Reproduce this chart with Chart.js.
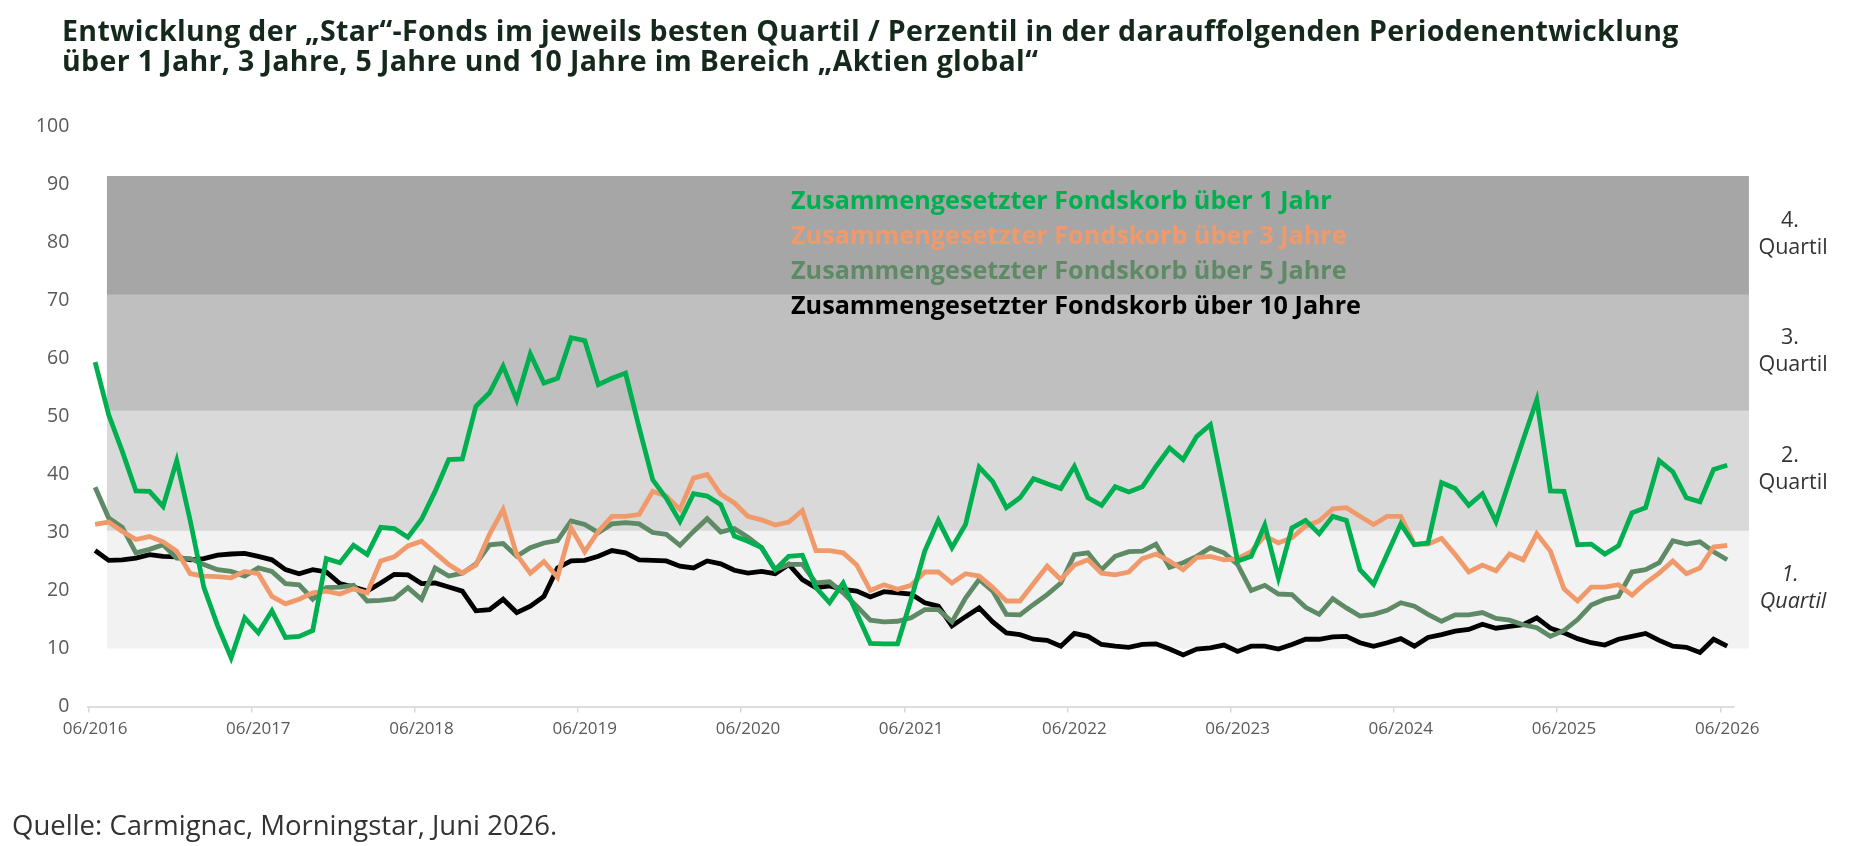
<!DOCTYPE html>
<html><head><meta charset="utf-8">
<script src="https://cdn.jsdelivr.net/npm/chart.js@4.4.1/dist/chart.umd.min.js"></script>
<style>
html,body{margin:0;padding:0;background:#fff;width:1854px;height:846px;overflow:hidden;font-family:'Open Sans',sans-serif;}
#title{position:absolute;left:62px;top:15px;font-size:28.5px;letter-spacing:0.35px;font-weight:700;line-height:30px;color:#14291b;white-space:nowrap;z-index:2;}
#source{position:absolute;left:12px;top:808px;font-size:27.5px;line-height:33px;color:#333;white-space:nowrap;z-index:2;}
canvas{position:absolute;left:0;top:0;}
</style></head><body>
<div id="title">Entwicklung der „Star“-Fonds im jeweils besten Quartil / Perzentil in der darauffolgenden Periodenentwicklung<br>über 1 Jahr, 3 Jahre, 5 Jahre und 10 Jahre im Bereich „Aktien global“</div>
<canvas id="c" width="1854" height="846"></canvas>
<div id="source">Quelle: Carmignac, Morningstar, Juni 2026.</div>
<script>
// ---- data ----
const startYear = 2016, startMonth = 6, monthCount = 121;
const months = [];
for (let i = 0; i < monthCount; i++) {
  const m = (startMonth - 1 + i) % 12 + 1, yr = startYear + Math.floor((startMonth - 1 + i) / 12);
  months.push((m < 10 ? '0' : '') + m + '/' + yr);
}
const tickLabels = ['06/2016','06/2017','06/2018','06/2019','06/2020','06/2021','06/2022','06/2023','06/2024','06/2025','06/2026'];
const seriesNames = ['Zusammengesetzter Fondskorb über 1 Jahr','Zusammengesetzter Fondskorb über 3 Jahre','Zusammengesetzter Fondskorb über 5 Jahre','Zusammengesetzter Fondskorb über 10 Jahre'];

const fonds1J = [59.4,50.3,44,37.2,37.1,34.5,42.4,32,20.5,14,8.4,15.3,12.7,16.5,11.9,12.1,13.1,25.5,24.8,27.8,26.2,30.9,30.7,29.2,32.3,
37.1,42.6,42.7,51.8,54.1,58.7,52.9,60.8,55.8,56.6,63.6,63.1,55.5,56.6,57.5,48.1,39.1,35.9,31.9,36.7,36.3,34.8,29.4,28.5,
27.4,23.6,25.9,26.1,20.5,17.9,21.3,16.1,10.9,10.8,10.8,18.5,26.8,32.1,27.4,31.4,41.3,38.8,34.3,36.0,39.3,38.4,37.6,41.4,
36.0,34.7,37.9,37.0,37.9,41.4,44.6,42.6,46.6,48.6,37,25.1,25.9,31.3,22.2,30.8,32.1,29.8,32.8,32.1,23.6,21.1,26.3,31.5,
27.9,28.2,38.6,37.6,34.7,36.7,31.9,39,46,52.9,37.2,37.1,27.9,28.0,26.3,27.7,33.4,34.3,42.4,40.5,36.0,35.3,40.9,41.6];

const fonds3J = [31.4,31.8,30.2,28.8,29.3,28.4,26.8,22.9,22.5,22.4,22.2,23.3,22.9,19.0,17.7,18.5,19.6,19.9,19.4,20.3,19.6,25.1,25.8,27.7,28.5,
26.5,24.5,23.0,24.4,29.7,34.0,26.2,23.0,25.0,22.3,30.8,26.7,30.2,32.8,32.8,33.1,37.1,36.3,34.0,39.4,40.0,36.6,35.1,32.8,
32.2,31.3,31.8,33.8,26.9,26.9,26.5,24.4,20.0,21.0,20.2,20.9,23.2,23.2,21.3,22.9,22.5,20.5,18.2,18.2,21.2,24.2,21.9,24.4,
25.3,23.0,22.7,23.2,25.5,26.3,25.1,23.6,25.7,25.9,25.3,25.5,26.7,29.4,28.2,29.1,31.1,32.0,34.1,34.3,32.8,31.4,32.8,32.8,
28.0,28.0,29.0,26.2,23.2,24.4,23.4,26.3,25.3,29.8,26.8,20.3,18.2,20.6,20.6,21.0,19.2,21.3,23.0,25.1,22.9,23.9,27.5,27.8];

const fonds5J = [37.8,32.5,30.9,26.5,27.1,27.9,25.6,25.5,24.5,23.6,23.3,22.5,23.9,23.3,21.2,21.0,18.5,20.5,20.6,20.9,18.2,18.3,18.6,20.5,18.5,
23.9,22.5,23.0,24.6,27.9,28.1,25.9,27.4,28.2,28.6,32.0,31.4,30.0,31.5,31.7,31.5,30.0,29.7,27.8,30.2,32.4,30.1,30.7,29.2,
27.4,23.6,24.5,24.5,21.3,21.5,19.6,17.3,14.9,14.6,14.7,15.3,16.7,16.7,14.6,18.7,21.9,19.9,15.9,15.8,17.6,19.3,21.3,26.2,
26.5,23.6,25.9,26.7,26.8,28.0,24.0,24.8,25.9,27.4,26.5,24.5,20.0,20.9,19.4,19.3,17.1,15.9,18.6,17.0,15.6,15.9,16.6,17.9,
17.3,15.9,14.7,15.8,15.8,16.2,15.2,14.9,14.1,13.6,12.1,13.1,15.0,17.5,18.5,19.0,23.2,23.6,24.8,28.6,28.0,28.4,26.7,25.3];

const fonds10J = [26.9,25.2,25.3,25.6,26.2,25.9,25.8,25.3,25.5,26.1,26.3,26.4,25.9,25.3,23.6,22.9,23.6,23.2,21.2,20.6,19.9,21.3,22.8,22.7,21.2,
21.3,20.6,19.9,16.5,16.7,18.5,16.2,17.3,19.0,23.9,25.1,25.2,25.9,26.9,26.5,25.3,25.2,25.1,24.2,23.9,25.1,24.6,23.5,23.0,
23.3,22.9,24.5,21.9,20.5,20.8,20.2,19.9,18.9,19.8,19.6,19.4,17.9,17.3,13.9,15.5,17.0,14.6,12.7,12.4,11.6,11.4,10.4,12.6,
12.1,10.7,10.4,10.2,10.7,10.8,9.9,8.9,9.9,10.1,10.6,9.5,10.4,10.4,9.9,10.7,11.6,11.6,12.0,12.1,11.0,10.4,11.0,11.7,
10.4,11.9,12.4,13.0,13.3,14.2,13.5,13.8,14.1,15.3,13.5,12.7,11.7,11.0,10.6,11.6,12.1,12.6,11.4,10.4,10.2,9.3,11.6,10.4];

// quartile bands (percentile ranges)
const bandLower = [10, 30.3, 51, 71];
const bandUpper = [30.3, 51, 71, 91.5];
const bandNumbers = ['1.', '2.', '3.', '4.'];
const bandWord = 'Quartil';
const yTicks = [0,10,20,30,40,50,60,70,80,90,100];

// ---- styles ----
const lineColors = ['#00b050', '#f09a6c', '#5f8a66', '#000000'];
const bandColors = ['#f2f2f2', '#d9d9d9', '#bfbfbf', '#a6a6a6'];

const decor = {
  id: 'decor',
  beforeDatasetsDraw(chart) {
    const {ctx, scales: {x, y}} = chart;
    const left = x.getPixelForValue(0.87), right = x.getPixelForValue(121.6);
    ctx.save();
    for (let k = 0; k < bandLower.length; k++) {
      const t = y.getPixelForValue(bandUpper[k]), b = y.getPixelForValue(bandLower[k]);
      ctx.fillStyle = bandColors[k];
      ctx.fillRect(left, t, right - left, b - t);
    }
    ctx.restore();
  },
  afterDatasetsDraw(chart) {
    const {ctx, scales: {y}} = chart;
    ctx.save();
    ctx.textBaseline = 'middle';
    ctx.textAlign = 'left';
    ctx.font = "bold 25.2px 'Open Sans'";
    chart.data.datasets.forEach((ds, i) => {
      ctx.fillStyle = ds.borderColor;
      ctx.fillText(ds.label, 791, 202 + 35 * i);
    });
    ctx.textAlign = 'center';
    ctx.fillStyle = '#333333';
    for (let k = 0; k < bandLower.length; k++) {
      const cy = (y.getPixelForValue(bandUpper[k]) + y.getPixelForValue(bandLower[k])) / 2;
      ctx.font = (k === 0 ? 'italic ' : '') + "21.5px 'Open Sans'";
      ctx.fillText(bandNumbers[k], 1790, cy - 15);
      ctx.fillText(bandWord, 1793, cy + 12);
    }
    ctx.restore();
  }
};

const datasets = [fonds1J, fonds3J, fonds5J, fonds10J].map((d, i) => ({
  label: seriesNames[i],
  data: d,
  borderColor: lineColors[i],
  backgroundColor: lineColors[i],
  borderWidth: 4.8,
  pointRadius: 0,
  tension: 0,
  fill: false
}));

new Chart(document.getElementById('c'), {
  type: 'line',
  data: { labels: months, datasets },
  plugins: [decor],
  options: {
    responsive: false,
    animation: false,
    devicePixelRatio: 1,
    layout: { padding: { top: 126.7, bottom: 99.5, right: 120, left: 0 } },
    plugins: { legend: { display: false }, tooltip: { enabled: false }, title: { display: false } },
    scales: {
      x: {
        type: 'category',
        offset: true,
        grid: {
          offset: true,
          drawOnChartArea: false,
          drawTicks: true,
          tickLength: 6,
          color: (c) => (c.index % 12 === 0 ? '#d9d9d9' : 'rgba(0,0,0,0)'),
          lineWidth: 1.5
        },
        border: { display: true, color: '#dddddd', width: 2 },
        ticks: {
          autoSkip: false,
          maxRotation: 0,
          padding: 6,
          color: '#595959',
          font: { family: 'Open Sans', size: 17 },
          callback: (v, i) => (i % 12 === 0 ? tickLabels[i / 12] : '')
        },
        afterFit: (s) => { s.height = 40; }
      },
      y: {
        min: 0, max: 100,
        afterBuildTicks: (s) => { s.ticks = yTicks.map(v => ({ value: v })); },
        grid: { display: false, drawTicks: false },
        border: { display: false },
        ticks: { padding: 19, color: '#595959', font: { family: 'Open Sans', size: 19.5 } },
        afterFit: (s) => { s.width = 88.3; }
      }
    }
  }
});
</script>
</body></html>
